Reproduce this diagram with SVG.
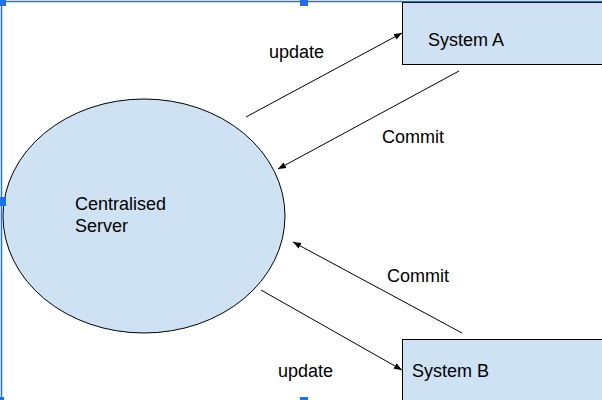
<svg xmlns="http://www.w3.org/2000/svg" width="602" height="400" viewBox="0 0 602 400">
<style>
.shape{fill:#cfe2f3;stroke:#000;stroke-width:1}
.lbl{font-family:"Liberation Sans",Arial,sans-serif;font-size:18px;fill:#000}
.con line{stroke:#000;stroke-width:1;marker-end:url(#ah)}
.sel{stroke:#1a73e8;stroke-width:1.5;fill:none}
.hdl{fill:#1a73e8}
</style>
<defs>
<marker id="ah" viewBox="0 0 10 10" refX="10" refY="5" markerWidth="8" markerHeight="8" markerUnits="userSpaceOnUse" orient="auto">
<path d="M0,1 L10,5 L0,9 z" fill="#000"/>
</marker>
</defs>
<rect width="602" height="400" fill="#fff"/>
<g id="server">
<ellipse class="shape" cx="144" cy="216" rx="141" ry="117"/>
<text class="lbl" x="75" y="210">Centralised</text>
<text class="lbl" x="75" y="232">Server</text>
</g>
<g id="systemA">
<rect class="shape" x="402.5" y="2.5" width="210" height="62"/>
<text class="lbl" x="428" y="46">System A</text>
</g>
<g id="systemB">
<rect class="shape" x="402.5" y="339.5" width="210" height="70"/>
<text class="lbl" x="412" y="377">System B</text>
</g>
<g id="connectors" class="con">
<line x1="246" y1="117" x2="402" y2="33"/>
<line x1="459" y1="71" x2="278" y2="169"/>
<line x1="462" y1="333" x2="293" y2="242"/>
<line x1="261" y1="290" x2="402" y2="370"/>
</g>
<g id="labels">
<text class="lbl" x="269" y="58">update</text>
<text class="lbl" x="382" y="143">Commit</text>
<text class="lbl" x="387" y="282">Commit</text>
<text class="lbl" x="278" y="377">update</text>
</g>
<g id="selection">
<line class="sel" x1="0" y1="1.5" x2="602" y2="1.5"/>
<line class="sel" x1="1.5" y1="0" x2="1.5" y2="400"/>
<rect class="hdl" x="0" y="0" width="6" height="6"/>
<rect class="hdl" x="300" y="0" width="8" height="6"/>
<rect class="hdl" x="0" y="197" width="6" height="9"/>
<rect class="hdl" x="300" y="397" width="8" height="3"/>
<rect class="hdl" x="0" y="397" width="4" height="3"/>
</g>
</svg>
